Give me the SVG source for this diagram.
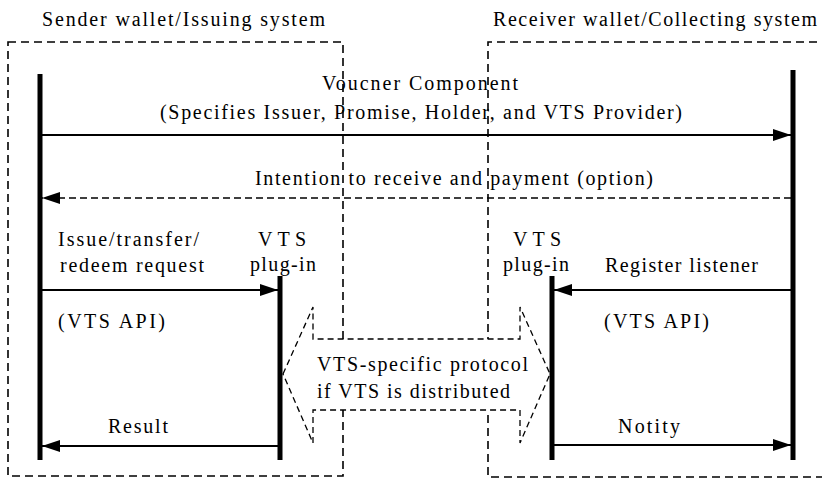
<svg xmlns="http://www.w3.org/2000/svg" width="822" height="478" viewBox="0 0 822 478">
<defs>
<marker id="ah" viewBox="0 0 18 12" refX="18" refY="6" markerWidth="18" markerHeight="12" markerUnits="userSpaceOnUse" orient="auto">
<path d="M0,0 L18,6 L0,12 Z" fill="#000"/>
</marker>
<style>
text{font-family:"Liberation Serif","Times New Roman",serif;font-size:20px;fill:#000;}
.box{fill:none;stroke:#000;stroke-width:1.6;stroke-dasharray:8 5;}
.life{stroke:#000;stroke-width:5;}
.msg{stroke:#000;stroke-width:1.8;fill:none;marker-end:url(#ah);}
.dmsg{stroke:#000;stroke-width:1.6;fill:none;stroke-dasharray:7 4;marker-end:url(#ah);}
.proto{fill:#fff;stroke:#000;stroke-width:1.3;stroke-dasharray:6 4;}
</style>
</defs>
<rect width="822" height="478" fill="#fff"/>

<g id="sender">
<text x="42" y="26" textLength="283" lengthAdjust="spacing">Sender wallet/Issuing system</text>
<rect class="box" x="8" y="42" width="335" height="434"/>
</g>

<g id="receiver">
<text x="493" y="26" textLength="324" lengthAdjust="spacing">Receiver wallet/Collecting system</text>
<path class="box" d="M830,42 L488,42 L488,477 L830,477"/>
</g>

<g id="protocol">
<polygon class="proto" points="283,374 313,307 313,339 520,339 520,307 550,374 520,443 520,410 313,410 313,443"/>
<text x="317" y="371" textLength="211" lengthAdjust="spacing">VTS-specific protocol</text>
<text x="317" y="398" textLength="193" lengthAdjust="spacing">if VTS is distributed</text>
</g>

<g id="sender-lifeline"><line class="life" x1="40" y1="74" x2="40" y2="460"/></g>
<g id="receiver-lifeline"><line class="life" x1="793" y1="70" x2="793" y2="460"/></g>
<g id="sender-plugin">
<line class="life" x1="280" y1="276" x2="280" y2="460"/>
<text x="282" y="246" text-anchor="middle" textLength="48" lengthAdjust="spacing">VTS</text>
<text x="283" y="271" text-anchor="middle" textLength="66" lengthAdjust="spacing">plug-in</text>
</g>
<g id="receiver-plugin">
<line class="life" x1="552" y1="276" x2="552" y2="460"/>
<text x="537" y="246" text-anchor="middle" textLength="48" lengthAdjust="spacing">VTS</text>
<text x="536" y="271" text-anchor="middle" textLength="66" lengthAdjust="spacing">plug-in</text>
</g>

<g id="connectors">
<line class="msg" x1="42" y1="135" x2="791" y2="135"/>
<line class="dmsg" x1="791" y1="198" x2="42" y2="198"/>
<line class="msg" x1="42" y1="290" x2="278" y2="290"/>
<line class="msg" x1="278" y1="446" x2="42" y2="446"/>
<line class="msg" x1="791" y1="290" x2="554" y2="290"/>
<line class="msg" x1="554" y1="445" x2="791" y2="445"/>
</g>

<g id="labels">
<text x="322" y="90" textLength="196" lengthAdjust="spacing">Voucner Component</text>
<text x="160" y="119" textLength="522" lengthAdjust="spacing">(Specifies Issuer, Promise, Holder, and VTS Provider)</text>
<text x="255" y="185" textLength="398" lengthAdjust="spacing">Intention to receive and payment (option)</text>
<text x="58" y="246" textLength="141" lengthAdjust="spacing">Issue/transfer/</text>
<text x="60" y="272" textLength="144" lengthAdjust="spacing">redeem request</text>
<text x="58" y="328" textLength="107" lengthAdjust="spacing">(VTS API)</text>
<text x="108" y="433" textLength="60" lengthAdjust="spacing">Result</text>
<text x="605" y="272" textLength="153" lengthAdjust="spacing">Register listener</text>
<text x="604" y="328" textLength="105" lengthAdjust="spacing">(VTS API)</text>
<text x="618" y="433" textLength="62" lengthAdjust="spacing">Notity</text>
</g>
</svg>
